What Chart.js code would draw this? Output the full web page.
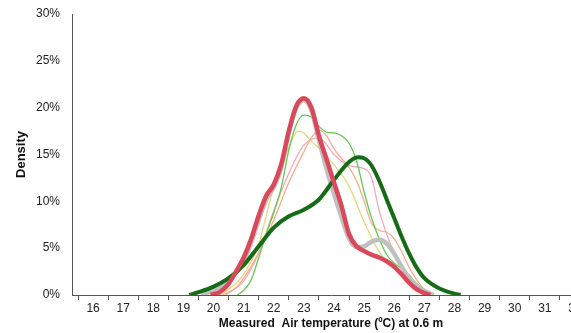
<!DOCTYPE html>
<html>
<head>
<meta charset="utf-8">
<script src="https://cdn.jsdelivr.net/npm/chart.js@4"></script>
<style>
  html, body { margin: 0; padding: 0; background: #fff; overflow: hidden; }
</style>
</head>
<body>
<canvas id="densityChart" width="600" height="333"></canvas>
<script>
// x tick labels (temperature, °C)
const tempLabels = [16, 17, 18, 19, 20, 21, 22, 23, 24, 25, 26, 27, 28, 29, 30, 31, 32];
const yTicks = [0, 5, 10, 15, 20, 25, 30];

// density curves (temperature, density %)
const thinGreenT = [20.8, 21, 21.25, 21.5, 21.75, 22, 22.25, 22.5, 22.75, 23, 23.25, 23.5, 23.75, 24, 24.25, 24.5, 24.75, 25, 25.25, 25.5, 25.75, 26, 26.25, 26.5, 26.75, 27, 27.3];
const thinGreenD = [0, 0.5, 1.6, 4, 6.5, 8.8, 11.5, 15.5, 18.2, 19.2, 19, 18, 17.4, 17.3, 17, 16.2, 14.3, 11, 8.2, 6, 4.3, 3.4, 2.8, 2.1, 1.2, 0.6, 0];

const salmonT = [20.3, 20.75, 21, 21.5, 22, 22.5, 23, 23.25, 23.5, 23.75, 24, 24.25, 24.5, 24.75, 25, 25.25, 25.5, 25.75, 26, 26.25, 26.5, 26.75, 27, 27.3];
const salmonD = [0, 0.8, 1.8, 4.5, 8, 12, 15.3, 16.8, 17.6, 17, 15.6, 14.6, 13.6, 12.2, 10, 7.6, 6.9, 6.7, 6, 4.6, 2.9, 1.6, 0.6, 0];

const yellowT = [20.2, 20.5, 21, 21.5, 22, 22.5, 22.8, 23, 23.25, 23.5, 24, 24.5, 25, 25.5, 26, 26.5, 27, 27.3];
const yellowD = [0, 0.6, 2.2, 5.5, 11.5, 15.8, 17.5, 17.3, 16.4, 15.7, 13.9, 11.6, 7.8, 4.6, 2.9, 1.6, 0.4, 0];

const pinkT = [20.4, 21, 21.5, 22, 22.5, 23, 23.5, 24, 24.5, 25, 25.25, 25.5, 25.75, 26, 26.5, 27, 27.3];
const pinkD = [0, 1.5, 4.5, 9, 13, 16, 16.8, 15, 13.8, 13.5, 12.5, 9, 6.5, 4.5, 2, 0.5, 0];

const grayT = [19.6, 20, 20.5, 21, 21.25, 21.5, 21.75, 22, 22.25, 22.5, 22.75, 23, 23.25, 23.5, 23.75, 24, 24.25, 24.5, 24.75, 25, 25.25, 25.5, 25.75, 26, 26.25, 26.5, 26.75, 27, 27.3];
const grayD = [0, 0.5, 1.5, 3.6, 5.6, 8, 10.2, 11.5, 13.6, 17.4, 20, 20.8, 19.7, 16.5, 13.5, 10.8, 8.3, 6, 5.1, 5.2, 5.7, 5.9, 5.5, 4.4, 3, 1.8, 1, 0.4, 0];

const darkGreenT = [19.2, 19.5, 20, 20.5, 21, 21.5, 22, 22.5, 23, 23.5, 24, 24.5, 24.8, 25, 25.25, 25.5, 25.75, 26, 26.25, 26.5, 26.75, 27, 27.5, 28, 28.2];
const darkGreenD = [0, 0.3, 0.9, 1.8, 3.2, 5.2, 7.2, 8.4, 9.1, 10.2, 12.3, 14.2, 14.7, 14.6, 13.8, 12.2, 10.2, 8.2, 6.2, 4.4, 2.9, 1.8, 0.7, 0.15, 0];

const redT = [19.9, 20.2, 20.5, 20.8, 21, 21.25, 21.5, 21.75, 22, 22.25, 22.5, 22.75, 23, 23.25, 23.5, 23.75, 24, 24.25, 24.5, 24.75, 25, 25.25, 25.5, 25.75, 26, 26.25, 26.5, 26.75, 27, 27.2];
const redD = [0, 0.3, 1.2, 2.8, 4, 6, 8.5, 10.6, 11.8, 14, 17.5, 20.2, 21, 20, 17, 14.5, 12, 9.5, 6.5, 5.2, 4.7, 4.3, 4, 3.6, 3, 2.2, 1.3, 0.6, 0.2, 0];

function pts(xs, ys) {
    return xs.map((x, i) => ({ x: x, y: ys[i] }));
}

function curve(xs, ys, color, width) {
    return {
        data: pts(xs, ys),
        borderColor: color,
        borderWidth: width,
        pointRadius: 0,
        fill: false,
        cubicInterpolationMode: 'monotone'
    };
}

const ctx = document.getElementById('densityChart').getContext('2d');

new Chart(ctx, {
    type: 'line',
    data: {
        // listed front to back
        datasets: [
            curve(redT, redD, 'rgba(218, 72, 92, 1)', 4.5),
            curve(darkGreenT, darkGreenD, 'rgba(22, 108, 22, 1)', 4),
            curve(grayT, grayD, 'rgba(192, 192, 192, 1)', 4.5),
            curve(thinGreenT, thinGreenD, 'rgba(100, 200, 80, 1)', 1.3),
            curve(salmonT, salmonD, 'rgba(248, 172, 140, 1)', 1.3),
            curve(yellowT, yellowD, 'rgba(226, 218, 120, 1)', 1.3),
            curve(pinkT, pinkD, 'rgba(244, 168, 188, 1)', 1.3)
        ]
    },
    options: {
        responsive: false,
        animation: false,
        layout: { padding: { top: 14, right: 10, left: 0, bottom: 0 } },
        plugins: {
            legend: { display: false },
            tooltip: { enabled: false }
        },
        scales: {
            x: {
                type: 'linear',
                min: 15.3,
                max: 32.5,
                afterBuildTicks: function (scale) {
                    const ticks = [];
                    tempLabels.forEach(t => {
                        ticks.push({ value: t - 0.5 });
                        ticks.push({ value: t });
                    });
                    ticks.push({ value: 32.5 });
                    scale.ticks = ticks;
                },
                afterFit: function (scale) {
                    scale.height = 38;
                    scale.paddingLeft = 0;
                    scale.paddingRight = 0;
                },
                grid: {
                    drawOnChartArea: false,
                    drawTicks: true,
                    tickLength: 5,
                    tickColor: c => (c.tick && Number.isInteger(c.tick.value)) ? 'rgba(0,0,0,0)' : '#555'
                },
                border: { display: true, color: '#555', width: 1 },
                ticks: {
                    autoSkip: false,
                    maxRotation: 0,
                    padding: 1,
                    color: '#222',
                    font: { family: 'Liberation Sans', size: 12 },
                    callback: v => Number.isInteger(v) ? String(v) : ''
                },
                title: {
                    display: true,
                    text: 'Measured  Air temperature (ºC) at 0.6 m',
                    color: '#111',
                    font: { family: 'Liberation Sans', size: 12, weight: 'bold' },
                    padding: { top: 0, bottom: 2 }
                }
            },
            y: {
                min: 0,
                max: 30,
                afterBuildTicks: function (scale) {
                    scale.ticks = yTicks.map(v => ({ value: v }));
                },
                afterFit: function (scale) {
                    scale.width = 72;
                    scale.paddingTop = 0;
                    scale.paddingBottom = 0;
                },
                grid: { drawOnChartArea: false, drawTicks: false },
                border: { display: true, color: '#555', width: 1 },
                ticks: {
                    padding: 12,
                    color: '#222',
                    font: { family: 'Liberation Sans', size: 12 },
                    callback: v => v + '%'
                },
                title: {
                    display: true,
                    text: 'Density',
                    color: '#111',
                    font: { family: 'Liberation Sans', size: 13, weight: 'bold' },
                    padding: { top: 14, bottom: 0 }
                }
            }
        }
    }
});
</script>
</body>
</html>
